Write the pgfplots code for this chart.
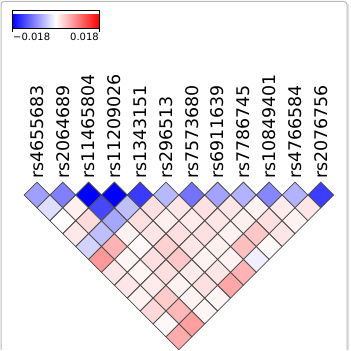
\documentclass[border=0pt]{standalone}
\usepackage{fontspec}
\setmainfont{DejaVu Sans}
\usepackage{pgfplots}
\pgfplotsset{compat=1.18}
\usepackage{pgfplotstable}

\pgfplotstableread{
x y v
0 0 -0.0068
1 0 -0.0090
2 0 -0.0180
3 0 -0.0180
4 0 -0.0140
5 0 -0.0050
6 0 -0.0099
7 0 -0.0065
8 0 -0.0054
9 0 -0.0085
10 0 -0.0054
11 0 -0.0137
0.5 -0.5 -0.0023
1.5 -0.5 0.0011
2.5 -0.5 -0.0130
3.5 -0.5 -0.0045
4.5 -0.5 0.0022
5.5 -0.5 0.0018
6.5 -0.5 0.0022
7.5 -0.5 0.0018
8.5 -0.5 0.0009
9.5 -0.5 0.0014
10.5 -0.5 0.0018
1 -1 0.0000
2 -1 0.0025
3 -1 -0.0063
4 -1 0.0023
5 -1 0.0011
6 -1 0.0014
7 -1 0.0018
8 -1 0.0011
9 -1 0.0022
10 -1 0.0009
1.5 -1.5 0.0016
2.5 -1.5 -0.0045
3.5 -1.5 0.0009
4.5 -1.5 0.0018
5.5 -1.5 0.0023
6.5 -1.5 0.0022
7.5 -1.5 0.0009
8.5 -1.5 0.0040
9.5 -1.5 0.0018
2 -2 -0.0031
3 -2 0.0054
4 -2 0.0004
5 -2 0.0032
6 -2 0.0018
7 -2 0.0011
8 -2 0.0045
9 -2 0.0004
2.5 -2.5 0.0072
3.5 -2.5 0.0007
4.5 -2.5 0.0022
5.5 -2.5 0.0040
6.5 -2.5 0.0009
7.5 -2.5 0.0009
8.5 -2.5 -0.0011
3 -3 0.0018
4 -3 0.0007
5 -3 0.0022
6 -3 0.0014
7 -3 0.0018
8 -3 0.0054
3.5 -3.5 0.0018
4.5 -3.5 0.0014
5.5 -3.5 0.0009
6.5 -3.5 0.0022
7.5 -3.5 0.0063
4 -4 0.0009
5 -4 0.0036
6 -4 0.0009
7 -4 0.0007
4.5 -4.5 0.0027
5.5 -4.5 0.0050
6.5 -4.5 0.0007
5 -5 0.0005
6 -5 0.0068
5.5 -5.5 0.0059
}\cells

\begin{document}
\begin{tikzpicture}
\begin{axis}[
  scale only axis,
  x=25.8pt, y=25.8pt,
  xmin=-1.434, xmax=12.171,
  ymin=-6.008, ymax=7.558,
  axis lines=none,
  clip=false,
  colormap={bwr}{rgb255=(0,0,255) rgb255=(255,255,255) rgb255=(255,0,0)},
  point meta min=-0.018, point meta max=0.018,
  colorbar horizontal,
  colorbar style={
    at={(parent axis.north west)},
    anchor=north west,
    xshift=12pt, yshift=-2pt,
    width=87pt, height=18pt,
    scale only axis,
    axis line style={black, line width=0.6pt},
    xtick={-0.018,0.018},
    xticklabels={},
    scaled x ticks=false,
    ytick=\empty,
    xtick pos=left,
    tick align=outside,
    major tick length=3pt,
    every tick/.style={black, line width=0.6pt},
  },
]
\path (rel axis cs:0,0) rectangle (rel axis cs:1,1);
\draw[gray!55, line width=1pt, rounded corners=3pt]
  (axis cs:-1.395,-6.008) -- (axis cs:-1.395,7.5) -- (axis cs:12.016,7.5) -- (axis cs:12.016,-6.008);
\draw[gray!25, line width=0.8pt] (axis cs:12.08,7.4) -- (axis cs:12.08,-6.008);

\addplot[scatter, only marks, mark=square*, mark size=9.1pt,
  mark options={rotate=45, line width=0.8pt},
  scatter/use mapped color={draw=black!70, fill=mapped color},
  point meta=explicit]
  table[x=x, y=y, meta=v] {\cells};

\node[anchor=north west, inner sep=0pt, font=\fontsize{10}{12}\selectfont] at (axis cs:-0.93,6.28) {−0.018};
\node[anchor=north east, inner sep=0pt, font=\fontsize{10}{12}\selectfont] at (axis cs:2.403,6.28) {0.018};

\pgfplotsforeachungrouped \k/\name in {0/rs4655683, 1/rs2064689, 2/rs11465804, 3/rs11209026, 4/rs1343151, 5/rs296513, 6/rs7573680, 7/rs6911639, 8/rs7786745, 9/rs10849401, 10/rs4766584, 11/rs2076756} {
  \edef\tmp{\noexpand\node[rotate=90, anchor=west, inner sep=0pt, font=\noexpand\fontsize{17.4}{20}\noexpand\selectfont] at (axis cs:\k,0.62) {\name};}
  \tmp
}
\end{axis}
\end{tikzpicture}
\end{document}
